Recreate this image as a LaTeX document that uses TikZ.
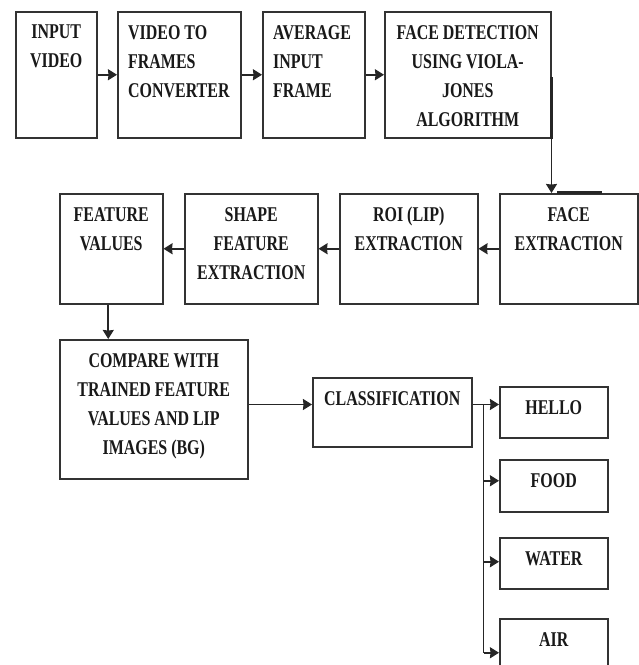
\documentclass[tikz,border=0pt]{standalone}
\usepackage{fontspec}
\setmainfont{Liberation Serif}
\usetikzlibrary{calc,positioning,arrows.meta}

\begin{document}
\begin{tikzpicture}[x=1pt,y=-1pt,
    box/.style={draw=black!80, line width=1.5pt, anchor=north west, inner sep=0pt},
    txt/.style={font=\bfseries\fontsize{21}{29}\selectfont, text=black!90, inner sep=0pt,
                xscale=0.76, transform shape},
    arr/.style={-{Stealth[length=9pt,width=11pt,inset=0.5pt]}, line width=1.6pt, draw=black!85},
    trunk/.style={line width=1.6pt, draw=black!85}]

    \fill[white] (0,0) rectangle (639,665);
    \clip (0,0) rectangle (639,665);
    \useasboundingbox (0,0) rectangle (639,665);

    % boxes: name / left / top / width / height
    \foreach \n/\x/\y/\w/\h in
    {nInputBx/15/11/81/126,
     nFramesBx/117/11/123/126,
     nAvgBx/262/11/102/126,
     nDetectBx/384/11/166/126,
     nFaceBx/499/193/138/110,
     nRoiBx/339/193/138/110,
     nShapeBx/184/193/133/110,
     nFeatBx/59/193/103/110,
     nCompareBx/59/339/188/139,
     nClassBx/312/377/159/69,
     nHelloBx/499/386/108/51,
     nFoodBx/499/459/108/52,
     nWaterBx/499/537/108/51,
     nAirBx/499/618/108/51%
    }
    {
        \node[box, minimum width=\w pt, minimum height=\h pt] (\n) at (\x,\y) {};
    };

    % centred texts
    \foreach \n/\m/\t in
    {nInputBx/nInputTx/{INPUT\\VIDEO},
     nDetectBx/nDetectTx/{FACE DETECTION\\USING VIOLA-\\JONES\\ALGORITHM},
     nFaceBx/nFaceTx/{FACE\\EXTRACTION},
     nRoiBx/nRoiTx/{ROI (LIP)\\EXTRACTION},
     nShapeBx/nShapeTx/{SHAPE\\FEATURE\\EXTRACTION},
     nFeatBx/nFeatTx/{FEATURE\\VALUES},
     nCompareBx/nCompareTx/{COMPARE WITH\\TRAINED FEATURE\\VALUES AND LIP\\IMAGES (BG)},
     nClassBx/nClassTx/{CLASSIFICATION},
     nHelloBx/nHelloTx/{HELLO},
     nFoodBx/nFoodTx/{FOOD},
     nWaterBx/nWaterTx/{WATER},
     nAirBx/nAirTx/{AIR}%
    }
    {
        \node[txt, align=center, anchor=north] (\m) at ([yshift=-14pt]\n.north) {\t};
    };

    % left aligned texts
    \node[txt, align=left, anchor=north west] (nFramesTx) at ([xshift=11pt,yshift=-14pt]nFramesBx.north west)
        {VIDEO TO\\FRAMES\\CONVERTER};
    \node[txt, align=left, anchor=north west] (nAvgTx) at ([xshift=11pt,yshift=-14pt]nAvgBx.north west)
        {AVERAGE\\INPUT\\FRAME};

    % first row
    \draw[arr] (nInputBx.east) -- (nFramesBx.west);
    \draw[arr] (nFramesBx.east) -- (nAvgBx.west);
    \draw[arr] (nAvgBx.east) -- (nDetectBx.west);
    \draw[arr] (nDetectBx.south east) -- (nDetectBx.south east |- nFaceBx.north);

    % second row
    \draw[arr] (nFaceBx.west) -- (nRoiBx.east);
    \draw[arr] (nRoiBx.west) -- (nShapeBx.east);
    \draw[arr] (nShapeBx.west) -- (nFeatBx.east);
    \draw[arr] ([xshift=-3pt]nFeatBx.south) -- ([xshift=-3pt]nFeatBx.south |- nCompareBx.north);

    % heavy strokes on the borders
    \draw[line width=3pt, black!85] ([xshift=58pt,yshift=1pt]nFaceBx.north west) -- ++(45,0);
    \draw[line width=2.4pt, black!85] ([yshift=-66pt]nDetectBx.north east) -- (nDetectBx.south east);

    % classification
    \coordinate (cClsInPt) at ($(nClassBx.north west)!0.39!(nClassBx.south west)$);
    \coordinate (cClsOutPt) at (cClsInPt -| nClassBx.east);
    \coordinate (cSplitPt) at ($(cClsOutPt)+(11,0)$);
    \draw[arr] (nCompareBx.east |- cClsInPt) -- (cClsInPt);

    \coordinate (cHelloPt) at (nHelloBx.west |- cClsOutPt);
    \coordinate (cFoodPt) at ([yshift=5pt]nFoodBx.west);
    \coordinate (cWaterPt) at ([yshift=1.5pt]nWaterBx.west);
    \coordinate (cAirPt) at ([yshift=-8.5pt]nAirBx.west);

    \draw[trunk] (cClsOutPt) -- (cSplitPt) -- (cSplitPt |- cAirPt);
    \foreach \c in {cHelloPt, cFoodPt, cWaterPt, cAirPt}
    {
        \draw[arr] (cSplitPt |- \c) -- (\c);
    };

\end{tikzpicture}
\end{document}
